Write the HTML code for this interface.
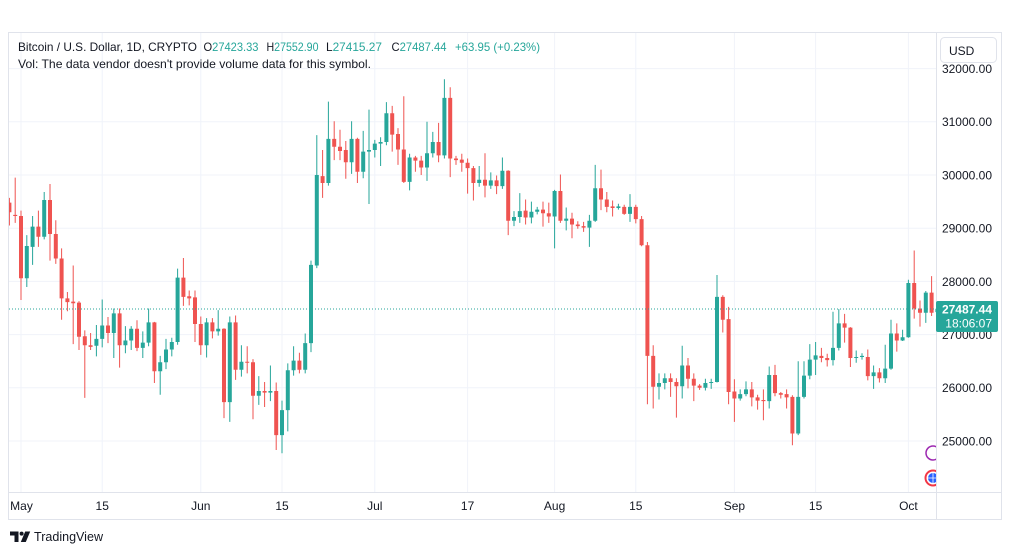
<!DOCTYPE html>
<html><head><meta charset="utf-8"><style>
html,body{margin:0;padding:0;background:#fff;width:1012px;height:555px;overflow:hidden}
svg{display:block}
text{font-family:"Liberation Sans",sans-serif}
</style></head><body>
<svg width="1012" height="555" viewBox="0 0 1012 555" xmlns="http://www.w3.org/2000/svg">
<defs><clipPath id="pc"><rect x="9" y="33" width="928" height="459"/></clipPath>
<clipPath id="ic"><rect x="900" y="430" width="36" height="62"/></clipPath></defs>
<rect width="1012" height="555" fill="#fff"/>
<!-- grid -->
<g stroke="#f0f3fa" stroke-width="1">
<path d="M9 68.6H937M9 121.8H937M9 175H937M9 228.2H937M9 281.4H937M9 334.6H937M9 387.8H937M9 441H937"/>
<path d="M21 33V492M102.2 33V492M200.8 33V492M282 33V492M374.8 33V492M467.6 33V492M554.6 33V492M635.8 33V492M734.4 33V492M815.6 33V492M908.4 33V492"/>
</g>
<!-- candles -->
<g clip-path="url(#pc)"><g transform="matrix(5.8,0,0,-0.0532,21,1771)" fill="none">
<path stroke="#26a69a" stroke-width="1" vector-effect="non-scaling-stroke" d="M1 27895V28870M2 28310V29230M4 28790V29680M13 26590V27180M14 26760V27660M16 26560V27490M18 26650V27160M19 26710V27160M21 26560V27060M22 26780V27490M24 25870V26600M25 26350V26920M26 26590V26940M27 26810V28240M32 26570V27310M34 26980V27460M36 25360V27340M38 26210V26800M41 25680V26220M43 25750V26420M45 24770V25760M46 25180V26460M47 26230V26780M49 26270V27020M50 26670V28390M51 28250V30750M53 29800V31380M57 30020V31010M59 29940V30830M60 29455V31230M61 30330V30660M62 30170V30710M63 30560V31370M67 29710V30400M70 29890V31000M71 30330V30810M73 30310V31800M79 29780V30170M81 29740V30050M83 29740V30330M85 29040V29320M86 29100V29660M88 29090V29500M89 29260V29400M92 28620V29720M94 28960V29390M98 28650V29250M99 29120V30190M103 29350V29460M105 29120V29640M110 25780V26270M111 25970V26270M114 25800V26790M118 25950V26170M119 25980V26170M120 26100V28120M124 25760V25970M125 25840V26120M129 25610V26400M134 25110V26500M135 25800V26500M136 26160V26820M137 26240V26860M140 26420V27430M141 26700V27480M144 26470V26700M145 26530V26650M147 25980V26420M149 26090V26810M150 26340V27280M152 26880V27090M153 26940V28030M156 27220V27820M158 27415V27552"/>
<path stroke="#26a69a" stroke-width="4" vector-effect="non-scaling-stroke" d="M1 28060V28665M2 28650V29030M4 28840V29530M13 26790V26920M14 26920V27170M16 27030V27400M18 26800V26890M19 26890V27110M21 26750V26850M22 26850V27230M24 26310V26480M25 26480V26720M26 26720V26860M27 26860V28070M32 26800V27230M34 27060V27110M36 25730V27230M38 26340V26490M41 25850V25940M43 25910V25940M45 25110V25580M46 25580V26330M47 26330V26510M49 26340V26840M50 26840V28310M51 28300V30000M53 29850V30680M57 30240V30680M59 30060V30440M60 30440V30470M61 30470V30590M62 30590V30620M63 30620V31160M67 29870V30330M70 30140V30410M71 30410V30620M73 30370V31450M79 29850V29910M81 29800V29900M83 29790V30080M85 29140V29210M86 29210V29320M88 29200V29310M89 29310V29350M92 29220V29700M94 29140V29180M98 29010V29140M99 29140V29750M103 29380V29410M105 29270V29400M110 26020V26090M111 26090V26180M114 26030V26420M118 26000V26090M119 26090V26110M120 26110V27710M124 25800V25880M125 25880V25970M129 25750V26240M134 25140V25830M135 25830V26230M136 26230V26530M137 26530V26610M140 26520V26750M141 26750V27210M144 26560V26580M145 26580V26600M147 26220V26290M149 26180V26360M150 26360V27020M152 26890V26950M153 26950V27970M156 27410V27790M158 27423V27487"/>
<path stroke="#ef5350" stroke-width="1" vector-effect="non-scaling-stroke" d="M-2 29050V29570M-1 29100V29950M0 27650V29330M3 28650V29330M5 28390V29830M6 28330V29150M7 27280V28620M8 27440V27800M9 26820V28300M10 26710V27630M11 25810V27080M12 26710V27030M15 26840V27330M17 26380V27490M20 26690V27270M23 26090V27240M28 27540V28440M29 27550V27830M30 26860V27830M31 26620V27340M33 26930V27310M35 25430V27120M37 26150V27360M39 26270V26780M40 25410V26540M42 25640V26110M44 24830V26100M48 26270V26660M52 29570V30470M54 30280V31010M55 30280V30850M56 29930V30640M58 29850V30700M64 30440V31300M65 30190V30880M66 29850V31480M68 30060V30360M69 30000V30360M72 30240V30980M74 29960V31650M75 30190V30360M76 30060V30400M77 29650V30310M78 29520V30170M80 29580V30410M82 29640V29990M84 28870V30090M87 29070V29540M90 29030V29500M91 29100V29480M93 29100V30010M95 28810V29290M96 28990V29130M97 28930V29120M100 29340V30100M101 29300V29680M102 29220V29520M104 29250V29440M106 29090V29440M107 28660V29230M108 25690V28740M109 25610V26800M112 25830V26270M113 25440V26180M115 25990V26560M116 25750V26270M117 25960V26070M121 27040V27740M122 25690V27520M123 25360V26160M126 25650V26110M127 25590V25870M128 25390V25970M130 25840V26430M131 25800V25920M132 25610V25970M133 24920V25860M138 26480V26750M139 26400V26640M142 26850V27390M143 26390V27140M146 26140V26720M148 26100V26370M151 26680V27210M154 27300V28580M155 27150V27640M157 27350V28100"/>
<path stroke="#ef5350" stroke-width="4" vector-effect="non-scaling-stroke" d="M-2 29480V29300M-1 29250V29230M0 29230V28060M3 29030V28840M5 29530V28890M6 28890V28430M7 28430V27680M8 27680V27610M9 27620V27590M10 27600V26960M11 26970V26800M12 26800V26770M15 27170V27030M17 27400V26800M20 27110V26750M23 27230V26310M28 28070V27710M29 27720V27680M30 27700V27200M31 27200V26800M33 27230V27060M35 27110V25730M37 27230V26340M39 26490V26470M40 26480V25850M42 25940V25910M44 25940V25110M48 26510V26340M52 29980V29850M54 30680V30530M55 30530V30450M56 30470V30240M58 30680V30060M64 31160V30760M65 30770V30480M66 30480V29870M68 30330V30270M69 30270V30140M72 30620V30370M74 31450V30310M75 30310V30280M76 30290V30230M77 30230V30130M78 30130V29850M80 29910V29800M82 29900V29790M84 30080V29140M87 29330V29200M90 29350V29280M91 29280V29220M93 29700V29140M95 29180V29070M96 29070V29040M97 29040V29010M100 29750V29540M101 29540V29400M102 29410V29380M104 29400V29270M106 29400V29170M107 29170V28680M108 28680V26600M109 26600V26020M112 26180V26110M113 26110V26030M115 26420V26170M116 26170V26040M117 26040V26000M121 27710V27280M122 27290V25920M123 25930V25800M126 25970V25820M127 25820V25760M128 25770V25750M130 26240V25900M131 25900V25870M132 25880V25820M133 25830V25140M138 26600V26560M139 26560V26520M142 27210V27130M143 27130V26560M146 26580V26220M148 26290V26180M151 27020V26890M154 27970V27490M155 27490V27410M157 27790V27410"/>
</g></g>
<!-- current price line -->
<line x1="9" y1="309" x2="937" y2="309" stroke="#26a69a" stroke-width="1" stroke-dasharray="1 2"/>
<!-- icons -->
<g clip-path="url(#ic)">
<circle cx="933" cy="453" r="7" fill="#fff" stroke="#9c27b0" stroke-width="1.5"/>
<circle cx="933" cy="478" r="8.5" fill="#f23645"/>
<circle cx="933" cy="478" r="6.5" fill="#fff"/>
<circle cx="933" cy="478" r="5" fill="#2962ff"/>
<path d="M928 478H938M933 473V483" stroke="#fff" stroke-width="0.8"/>
</g>
<!-- frame -->
<g stroke="#e0e3eb" stroke-width="1" fill="none">
<rect x="8.5" y="32.5" width="993" height="487"/>
<line x1="936.5" y1="33" x2="936.5" y2="519"/>
<line x1="9" y1="492.5" x2="1001" y2="492.5"/>
</g>
<!-- price labels -->
<g font-size="12" fill="#131722" text-anchor="end">
<text x="992" y="73">32000.00</text>
<text x="992" y="126.2">31000.00</text>
<text x="992" y="179.4">30000.00</text>
<text x="992" y="232.6">29000.00</text>
<text x="992" y="285.8">28000.00</text>
<text x="992" y="339">27000.00</text>
<text x="992" y="392.2">26000.00</text>
<text x="992" y="445.4">25000.00</text>
</g>
<rect x="940.5" y="37.5" width="56" height="25" rx="4" fill="#fff" stroke="#e0e3eb"/>
<text x="949" y="55" font-size="12" fill="#131722">USD</text>
<rect x="936" y="301" width="62" height="31" rx="2" fill="#26a69a"/>
<text x="992" y="313.5" font-size="12" font-weight="bold" fill="#fff" text-anchor="end">27487.44</text>
<text x="992" y="327.5" font-size="12" fill="#fff" text-anchor="end">18:06:07</text>
<!-- time labels -->
<g font-size="12" fill="#131722" text-anchor="middle">
<text x="21.5" y="510">May</text>
<text x="102.2" y="510">15</text>
<text x="200.8" y="510">Jun</text>
<text x="282" y="510">15</text>
<text x="374.8" y="510">Jul</text>
<text x="467.6" y="510">17</text>
<text x="554.6" y="510">Aug</text>
<text x="635.8" y="510">15</text>
<text x="734.4" y="510">Sep</text>
<text x="815.6" y="510">15</text>
<text x="908.4" y="510">Oct</text>
</g>
<!-- header -->
<g font-size="12">
<text x="18" y="51" fill="#131722" textLength="179" lengthAdjust="spacingAndGlyphs">Bitcoin / U.S. Dollar, 1D, CRYPTO</text>
<text x="203.5" y="51" fill="#26a69a" textLength="55" lengthAdjust="spacingAndGlyphs"><tspan fill="#131722">O</tspan>27423.33</text>
<text x="266.5" y="51" fill="#26a69a" textLength="52" lengthAdjust="spacingAndGlyphs"><tspan fill="#131722">H</tspan>27552.90</text>
<text x="326" y="51" fill="#26a69a" textLength="56" lengthAdjust="spacingAndGlyphs"><tspan fill="#131722">L</tspan>27415.27</text>
<text x="391.5" y="51" fill="#26a69a" textLength="55" lengthAdjust="spacingAndGlyphs"><tspan fill="#131722">C</tspan>27487.44</text>
<text x="455" y="51" fill="#26a69a" textLength="85" lengthAdjust="spacingAndGlyphs">+63.95 (+0.23%)</text>
<text x="18" y="68" fill="#131722" textLength="353" lengthAdjust="spacingAndGlyphs">Vol: The data vendor doesn't provide volume data for this symbol.</text>
</g>
<!-- logo -->
<g fill="#131722">
<path d="M10 531.5h8.5v10.5h-4v-6.5h-4.5z"/>
<circle cx="21.6" cy="533.6" r="2"/>
<path d="M25.2 531.5h5l-4.4 10.5h-5z"/>
</g>
<text x="34" y="541" font-size="13" fill="#131722" textLength="69" lengthAdjust="spacingAndGlyphs">TradingView</text>
</svg>
</body></html>
